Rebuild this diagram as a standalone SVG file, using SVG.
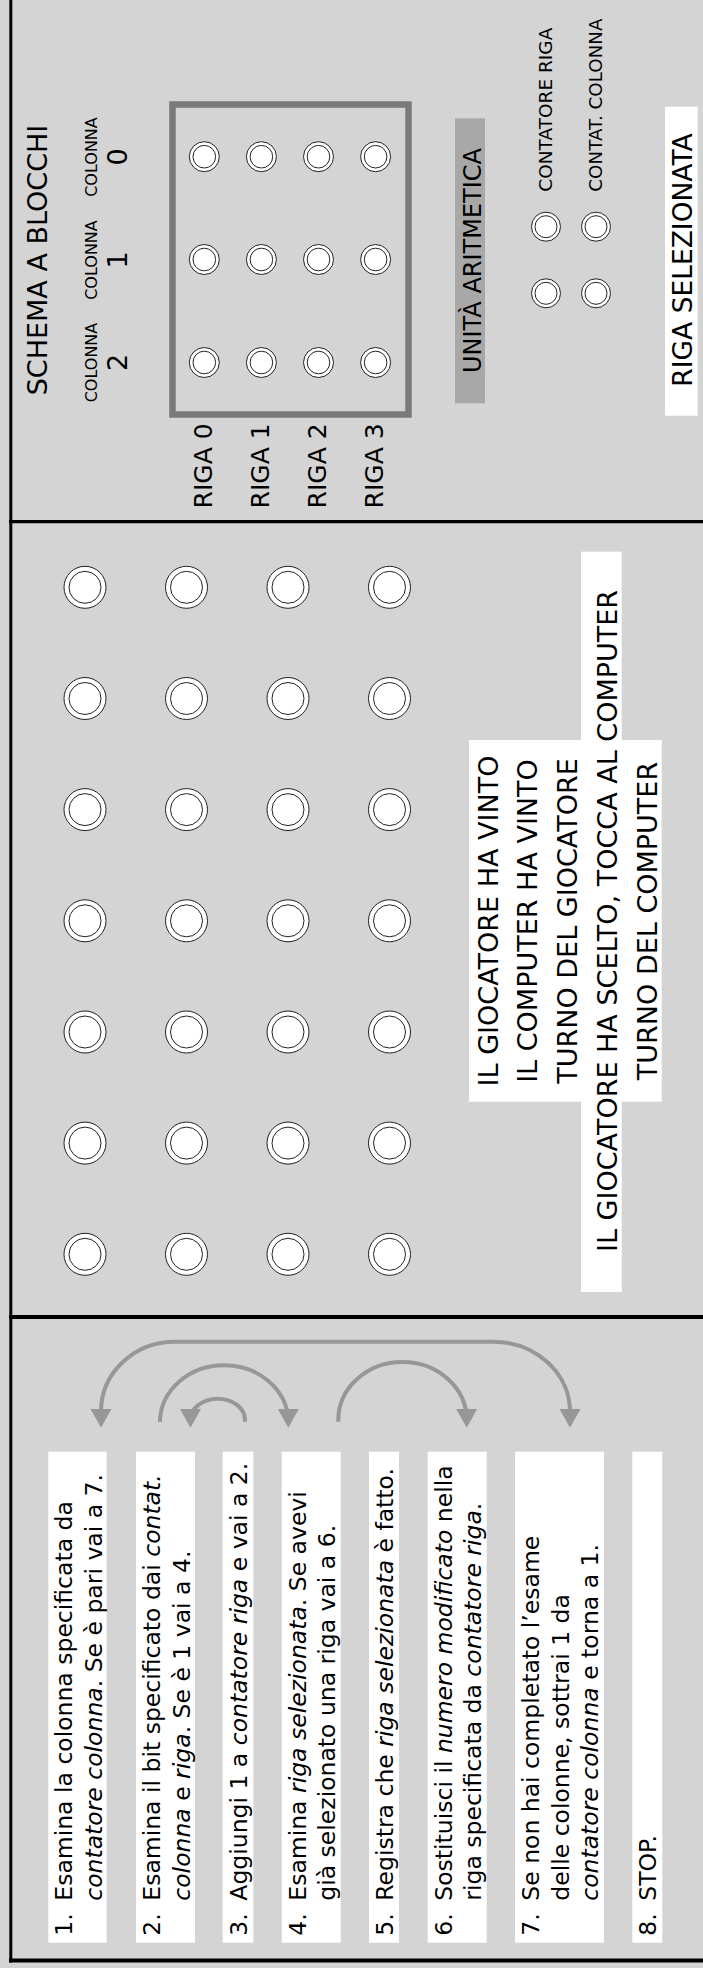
<svg xmlns="http://www.w3.org/2000/svg" xmlns:xlink="http://www.w3.org/1999/xlink" width="703" height="1968" viewBox="0 0 703 1968">
<style>
text{font-family:"DejaVu Sans",Verdana,sans-serif;fill:#000}
.frame{stroke:#000;fill:none}
.pegO{fill:#fff;stroke:#222;stroke-width:1}
.arr{fill:none;stroke:#979797;stroke-width:4}
.head{fill:#979797}
.step{font-size:23.5px}
.i{font-style:italic}
.mid{font-size:27px;text-anchor:middle}
</style>
<defs>
<g id="bigpeg"><circle class="pegO" r="21"/><circle class="pegO" r="16"/></g>
<g id="smallpeg"><circle class="pegO" r="15"/><circle class="pegO" r="11.3"/></g>
<g id="cpeg"><circle class="pegO" r="14.5"/><circle class="pegO" r="11"/></g>
</defs>
<rect x="0" y="0" width="703" height="1968" fill="#d4d4d4"/>

<g id="borders">
<line class="frame" x1="10.8" y1="0" x2="10.8" y2="1962.5" stroke-width="3"/>
<line class="frame" x1="9" y1="1960.5" x2="703" y2="1960.5" stroke-width="4"/>
<line class="frame" x1="9" y1="521.7" x2="703" y2="521.7" stroke-width="3.3"/>
<line class="frame" x1="9" y1="1317" x2="703" y2="1317" stroke-width="4"/>
</g>

<!-- TOP PANEL -->
<g id="title"><text x="46.5" y="260" font-size="27" text-anchor="middle" transform="rotate(-90 46.5 260)">SCHEMA A BLOCCHI</text></g>
<g id="collabels" text-anchor="middle">
<text x="96.5" y="157" font-size="16" transform="rotate(-90 96.5 157)">COLONNA</text>
<text x="96.5" y="260" font-size="16" transform="rotate(-90 96.5 260)">COLONNA</text>
<text x="96.5" y="362.5" font-size="16" transform="rotate(-90 96.5 362.5)">COLONNA</text>
<text x="127" y="157" font-size="27" transform="rotate(-90 127 157)">0</text>
<text x="127" y="260" font-size="27" transform="rotate(-90 127 260)">1</text>
<text x="127" y="362.5" font-size="27" transform="rotate(-90 127 362.5)">2</text>
</g>
<g id="memory">
<rect x="172.5" y="104.5" width="236" height="310" fill="none" stroke="#7a7a7a" stroke-width="6.5"/>
<use xlink:href="#smallpeg" x="204.3" y="156.7"/><use xlink:href="#smallpeg" x="261.4" y="156.7"/><use xlink:href="#smallpeg" x="318.5" y="156.7"/><use xlink:href="#smallpeg" x="375.6" y="156.7"/>
<use xlink:href="#smallpeg" x="204.3" y="259.5"/><use xlink:href="#smallpeg" x="261.4" y="259.5"/><use xlink:href="#smallpeg" x="318.5" y="259.5"/><use xlink:href="#smallpeg" x="375.6" y="259.5"/>
<use xlink:href="#smallpeg" x="204.3" y="362.5"/><use xlink:href="#smallpeg" x="261.4" y="362.5"/><use xlink:href="#smallpeg" x="318.5" y="362.5"/><use xlink:href="#smallpeg" x="375.6" y="362.5"/>
</g>
<g id="rowlabels" text-anchor="end" font-size="25">
<text x="211.7" y="423.3" transform="rotate(-90 211.7 423.3)">RIGA 0</text>
<text x="268.6" y="423.3" transform="rotate(-90 268.6 423.3)">RIGA 1</text>
<text x="326" y="423.3" transform="rotate(-90 326 423.3)">RIGA 2</text>
<text x="383.3" y="423.3" transform="rotate(-90 383.3 423.3)">RIGA 3</text>
</g>
<g id="alu">
<rect x="455" y="118.3" width="30" height="285" fill="#a8a8a8"/>
<text x="481" y="260.5" font-size="24" text-anchor="middle" transform="rotate(-90 481 260.5)">UNITÀ ARITMETICA</text>
</g>
<g id="counters">
<use xlink:href="#cpeg" x="546" y="226.7"/><use xlink:href="#cpeg" x="596" y="226.7"/>
<use xlink:href="#cpeg" x="546" y="293.3"/><use xlink:href="#cpeg" x="596" y="293.3"/>
<text x="552" y="191.7" font-size="18.5" transform="rotate(-90 552 191.7)">CONTATORE RIGA</text>
<text x="602" y="191.7" font-size="18.3" transform="rotate(-90 602 191.7)">CONTAT. COLONNA</text>
</g>
<g id="selrow">
<rect x="665" y="106.7" width="32.7" height="309" fill="#fff"/>
<text x="692" y="260" font-size="26.5" text-anchor="middle" transform="rotate(-90 692 260)">RIGA SELEZIONATA</text>
</g>

<!-- MIDDLE PANEL -->
<g id="board">
<use xlink:href="#bigpeg" x="85" y="587.3"/><use xlink:href="#bigpeg" x="186.5" y="587.3"/><use xlink:href="#bigpeg" x="288" y="587.3"/><use xlink:href="#bigpeg" x="389.5" y="587.3"/>
<use xlink:href="#bigpeg" x="85" y="698.5"/><use xlink:href="#bigpeg" x="186.5" y="698.5"/><use xlink:href="#bigpeg" x="288" y="698.5"/><use xlink:href="#bigpeg" x="389.5" y="698.5"/>
<use xlink:href="#bigpeg" x="85" y="809.6"/><use xlink:href="#bigpeg" x="186.5" y="809.6"/><use xlink:href="#bigpeg" x="288" y="809.6"/><use xlink:href="#bigpeg" x="389.5" y="809.6"/>
<use xlink:href="#bigpeg" x="85" y="920.8"/><use xlink:href="#bigpeg" x="186.5" y="920.8"/><use xlink:href="#bigpeg" x="288" y="920.8"/><use xlink:href="#bigpeg" x="389.5" y="920.8"/>
<use xlink:href="#bigpeg" x="85" y="1032"/><use xlink:href="#bigpeg" x="186.5" y="1032"/><use xlink:href="#bigpeg" x="288" y="1032"/><use xlink:href="#bigpeg" x="389.5" y="1032"/>
<use xlink:href="#bigpeg" x="85" y="1143.1"/><use xlink:href="#bigpeg" x="186.5" y="1143.1"/><use xlink:href="#bigpeg" x="288" y="1143.1"/><use xlink:href="#bigpeg" x="389.5" y="1143.1"/>
<use xlink:href="#bigpeg" x="85" y="1254.3"/><use xlink:href="#bigpeg" x="186.5" y="1254.3"/><use xlink:href="#bigpeg" x="288" y="1254.3"/><use xlink:href="#bigpeg" x="389.5" y="1254.3"/>
</g>
<g id="messages">
<rect x="469" y="740" width="192.7" height="361.7" fill="#fff"/>
<rect x="581" y="551.7" width="40.7" height="740.3" fill="#fff"/>
<text class="mid" x="497.5" y="921" transform="rotate(-90 497.5 921)">IL GIOCATORE HA VINTO</text>
<text class="mid" x="537.2" y="921" transform="rotate(-90 537.2 921)">IL COMPUTER HA VINTO</text>
<text class="mid" x="577" y="921" transform="rotate(-90 577 921)">TURNO DEL GIOCATORE</text>
<text class="mid" x="616.7" y="921" transform="rotate(-90 616.7 921)">IL GIOCATORE HA SCELTO, TOCCA AL COMPUTER</text>
<text class="mid" x="656.5" y="921" transform="rotate(-90 656.5 921)">TURNO DEL COMPUTER</text>
</g>

<!-- BOTTOM PANEL: connectors -->
<g id="connectors">
<path class="arr" d="M101 1412 A74 70 0 0 1 175 1341.7 L493 1341.7 A77 70 0 0 1 570 1412"/>
<polygon class="head" points="90.5,1409 111.5,1409 101,1427.7"/>
<polygon class="head" points="559.5,1409 580.5,1409 570,1427.7"/>
<path class="arr" d="M160 1421.7 L160 1420 A64.2 57 0 0 1 288.3 1420 L288.3 1421"/>
<polygon class="head" points="277.8,1409 298.8,1409 288.3,1427.7"/>
<path class="arr" d="M245 1421.7 L245 1420 A27.25 21.3 0 0 0 190.5 1420"/>
<polygon class="head" points="180,1409 201,1409 190.5,1427.7"/>
<path class="arr" d="M338.3 1421.7 L338.3 1420 A64.2 58 0 0 1 466.7 1420"/>
<polygon class="head" points="456.2,1409 477.2,1409 466.7,1427.7"/>
</g>

<!-- BOTTOM PANEL: steps -->
<g id="step1" class="step" transform="translate(48.3 1942.7) rotate(-90)">
<rect width="491" height="58.4" fill="#fff"/>
<text x="7" y="24">1.</text>
<text x="42" y="24">Esamina la colonna specificata da</text>
<text x="42" y="53.7"><tspan class="i">contatore colonna</tspan>. Se è pari vai a 7.</text>
</g>
<g id="step2" class="step" transform="translate(136 1942.7) rotate(-90)">
<rect width="491" height="59" fill="#fff"/>
<text x="7" y="24">2.</text>
<text x="42" y="24">Esamina il bit specificato dai <tspan class="i">contat.</tspan></text>
<text x="42" y="53.7"><tspan class="i">colonna</tspan> e <tspan class="i">riga</tspan>. Se è 1 vai a 4.</text>
</g>
<g id="step3" class="step" transform="translate(222.7 1942.7) rotate(-90)">
<rect width="491" height="30.6" fill="#fff"/>
<text x="7" y="24">3.</text>
<text x="42" y="24">Aggiungi 1 a <tspan class="i">contatore riga</tspan> e vai a 2.</text>
</g>
<g id="step4" class="step" transform="translate(281.7 1942.7) rotate(-90)">
<rect width="491" height="59" fill="#fff"/>
<text x="7" y="24">4.</text>
<text x="42" y="24">Esamina <tspan class="i">riga selezionata</tspan>. Se avevi</text>
<text x="42" y="53.7">già selezionato una riga vai a 6.</text>
</g>
<g id="step5" class="step" transform="translate(369 1942.7) rotate(-90)">
<rect width="491" height="30" fill="#fff"/>
<text x="7" y="24">5.</text>
<text x="42" y="24">Registra che <tspan class="i">riga selezionata</tspan> è fatto.</text>
</g>
<g id="step6" class="step" transform="translate(427.7 1942.7) rotate(-90)">
<rect width="491" height="59" fill="#fff"/>
<text x="7" y="24">6.</text>
<text x="42" y="24">Sostituisci il <tspan class="i">numero modificato</tspan> nella</text>
<text x="42" y="53.7">riga specificata da <tspan class="i">contatore riga</tspan>.</text>
</g>
<g id="step7" class="step" transform="translate(515 1942.7) rotate(-90)">
<rect width="491" height="89" fill="#fff"/>
<text x="7" y="24">7.</text>
<text x="42" y="24">Se non hai completato l’esame</text>
<text x="42" y="53.7">delle colonne, sottrai 1 da</text>
<text x="42" y="83.4"><tspan class="i">contatore colonna</tspan> e torna a 1.</text>
</g>
<g id="step8" class="step" transform="translate(632.3 1942.7) rotate(-90)">
<rect width="491" height="30" fill="#fff"/>
<text x="7" y="24">8.</text>
<text x="42" y="24">STOP.</text>
</g>
</svg>
